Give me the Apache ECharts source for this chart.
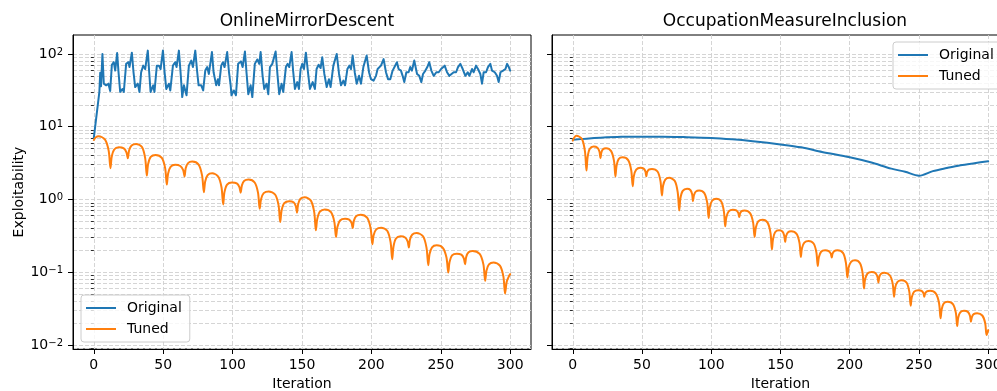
<!DOCTYPE html>
<html>
<head>
<meta charset="utf-8">
<script src="https://cdn.jsdelivr.net/npm/echarts@6/dist/echarts.min.js"></script>
<style>
  html, body { margin: 0; padding: 0; background: #fff; }
  #chart { width: 997px; height: 391px; }
</style>
</head>
<body>
<div id="chart"></div>
<script>
// [iteration, exploitability]
const omdOriginal = [
  [0, 7], [4, 30], [4.6, 55], [5.2, 36], [6.2, 100], [7.2, 39], [8.9, 37], [10.5, 39], [11.8, 31],
  [13, 71], [14.4, 77], [15.4, 59], [16.8, 103], [17.8, 56], [19, 30], [20.7, 33], [21.6, 30],
  [23.3, 73], [25, 77], [25.7, 66], [27.4, 104], [28.6, 56], [29.8, 35], [31.7, 39], [32.9, 30],
  [34.1, 56], [35.6, 69], [37, 62], [38.9, 111], [39.9, 56], [40.9, 30], [42.8, 37], [43.7, 30],
  [45.4, 69], [46.9, 69], [48.1, 62], [49.8, 111], [51, 56], [52.2, 33], [54.1, 39], [55.1, 31.5],
  [57, 69], [58.7, 77], [59.6, 66], [61.3, 111], [62.5, 56], [63.7, 25.5], [64.9, 37], [66.8, 27],
  [68.5, 69], [70.2, 81], [71.4, 66], [73.1, 111], [74.5, 56], [75.5, 37], [77.4, 37], [78.8, 31.5],
  [80.3, 59], [81.7, 66], [82.9, 53], [85.1, 106], [86.3, 56], [87.3, 45], [88.2, 37], [89.4, 45],
  [90.2, 37], [91.8, 69], [93, 77], [94.2, 66], [96.1, 106], [97.4, 56], [98.6, 37], [99.2, 27],
  [100.9, 31.5], [102.4, 27], [104, 73], [106, 79], [107.2, 66], [108.9, 108], [110, 56], [111.3, 28],
  [113, 37], [114.2, 25.5], [116, 73], [117.8, 84], [119.2, 73], [120.2, 106], [121.6, 50], [122.8, 33],
  [124.5, 39], [125.7, 28], [126.9, 66], [128.6, 73], [129.8, 69], [131, 108], [132.4, 50], [133.6, 28],
  [135.3, 39], [136.5, 30], [138.4, 66], [139.6, 73], [140.8, 66], [142.5, 106], [143.7, 56], [144.9, 33],
  [146.6, 41], [147.8, 33], [149, 62], [150.2, 73], [151.4, 62], [152.8, 104], [154.3, 56], [155.7, 33],
  [157.7, 41], [159.3, 33], [160.5, 62], [162, 71], [163.4, 64], [164.6, 90], [166.1, 53], [167.8, 35],
  [169.4, 45], [170.6, 35], [172.6, 69], [173.8, 69], [175, 100], [176.7, 53], [178.1, 37], [179.8, 43],
  [181, 37], [182.7, 62], [184.1, 69], [185.3, 62], [186.5, 95], [188, 56], [189.4, 39], [191.1, 50],
  [192.5, 39], [194.2, 66], [195.4, 69], [196.6, 95], [198.3, 56], [199.7, 45], [201.6, 43], [203.3, 50],
  [204.5, 62], [205.7, 62], [206.9, 69], [208.8, 85], [210.5, 56], [212, 45], [213.6, 45], [215.3, 59],
  [216.5, 59], [218.4, 77], [219.6, 62], [221.3, 59], [222.5, 50], [223.7, 41], [225.2, 56], [226.8, 56],
  [228, 66], [229.2, 59], [230.9, 81], [232.9, 53], [234.5, 50], [236, 41], [237.2, 53], [238.9, 59],
  [240.3, 66], [241.7, 77], [243.2, 59], [244.9, 50], [246.8, 56], [248.5, 56], [250.2, 62], [251.4, 62],
  [252.8, 69], [254.5, 56], [256.2, 50], [257.6, 48], [259.3, 56], [261, 56], [262.4, 66], [264.1, 73],
  [265.8, 62], [267.7, 50], [269.4, 56], [270.6, 50], [272.5, 62], [273.7, 56], [275.4, 69], [276.8, 62],
  [278.5, 53], [279.7, 39], [280.9, 56], [282.6, 56], [284, 66], [285.7, 73], [286.9, 59], [288.9, 56],
  [290.5, 50], [291.7, 41], [293, 56], [294.9, 59], [296.6, 62], [297.8, 73], [299, 66], [300, 59]
];

const omdTuned = [
  [0, 6.58], [1.5, 7.16], [3.4, 7.36], [8.1, 6.65], [10.7, 4.68], [12, 2.69], [12.9, 3.86], [14.7, 4.86],
  [18, 5.2], [21.6, 5.02], [23.5, 4.45], [24.5, 3.68], [25.4, 4.72], [27.2, 5.53], [30.5, 5.79],
  [34.7, 5.25], [37, 3.7], [38.2, 2.13], [39.1, 3.05], [41, 3.84], [44.5, 4.09], [49, 3.72], [51.4, 2.69],
  [52.6, 1.6], [53.5, 2.26], [55.3, 2.81], [58.6, 2.99], [62.3, 2.88], [64.4, 2.53], [65.4, 2.07],
  [66.2, 2.68], [67.9, 3.16], [70.9, 3.31], [75.5, 3.01], [78, 2.14], [79.3, 1.26], [80.2, 1.75],
  [82, 2.16], [85.3, 2.29], [89.6, 2.07], [92, 1.47], [93.2, 0.855], [94.1, 1.25], [96, 1.6],
  [99.5, 1.71], [103, 1.66], [104.9, 1.48], [105.8, 1.24], [106.7, 1.56], [108.4, 1.8], [111.5, 1.88],
  [115.9, 1.71], [118.3, 1.24], [119.5, 0.745], [120.5, 1.01], [122.4, 1.22], [126, 1.29], [130.6, 1.17],
  [133.1, 0.834], [134.3, 0.489], [135.3, 0.703], [137.2, 0.887], [140.8, 0.948], [143.9, 0.914],
  [145.6, 0.804], [146.4, 0.658], [147.2, 0.861], [148.9, 1.02], [152, 1.07], [156.4, 0.964],
  [158.8, 0.668], [160, 0.376], [161, 0.541], [162.9, 0.682], [166.5, 0.73], [170.9, 0.668],
  [173.3, 0.492], [174.5, 0.305], [175.5, 0.419], [177.4, 0.513], [181, 0.543], [184, 0.527],
  [185.7, 0.475], [186.5, 0.405], [187.4, 0.511], [189.1, 0.592], [192.3, 0.617], [196.9, 0.561],
  [199.4, 0.405], [200.7, 0.242], [201.6, 0.323], [203.5, 0.388], [207, 0.409], [211.4, 0.371],
  [213.8, 0.261], [215, 0.151], [215.9, 0.224], [217.7, 0.29], [221, 0.311], [224.3, 0.3], [226.1, 0.265],
  [227, 0.218], [227.8, 0.281], [229.5, 0.33], [232.6, 0.345], [237.2, 0.312], [239.7, 0.218],
  [241, 0.125], [241.9, 0.177], [243.7, 0.22], [247, 0.234], [251.6, 0.215], [254.1, 0.159],
  [255.4, 0.099], [256.3, 0.138], [258.1, 0.17], [261.5, 0.18], [264.8, 0.174], [266.6, 0.155],
  [267.5, 0.129], [268.3, 0.162], [270, 0.188], [273, 0.196], [278, 0.178], [280.7, 0.128],
  [282, 0.076], [282.9, 0.105], [284.7, 0.128], [288, 0.136], [292.6, 0.123], [295.1, 0.0875],
  [296.3, 0.051], [297.5, 0.0741], [299, 0.0871], [300, 0.094]
];

const omiOriginal = [
  [0, 6.6], [10, 6.85], [20, 7.05], [35, 7.25], [50, 7.3], [65, 7.3], [80, 7.2], [100, 7.0],
  [115, 6.7], [130, 6.3], [150, 5.7], [165, 5.2], [180, 4.5], [200, 3.8], [215, 3.24], [230, 2.65],
  [240, 2.4], [250, 2.12], [260, 2.45], [270, 2.7], [280, 2.95], [290, 3.15], [300, 3.35]
];

const omiTuned = [
  [0, 6.43], [1.2, 7.16], [2.6, 7.53], [6.6, 6.75], [8.8, 4.58], [9.9, 2.49], [10.7, 3.78], [12.2, 4.93],
  [15.1, 5.32], [17.8, 5.13], [19.3, 4.51], [20, 3.68], [20.6, 4.38], [21.8, 4.89], [24, 5.05],
  [27.7, 4.61], [29.8, 3.37], [30.8, 2.07], [31.6, 2.89], [33.1, 3.58], [36, 3.8], [40, 3.47],
  [42.2, 2.52], [43.3, 1.52], [44.1, 2.09], [45.8, 2.56], [48.8, 2.72], [51.2, 2.65], [52.5, 2.41],
  [53.1, 2.08], [53.7, 2.37], [54.9, 2.57], [57.2, 2.63], [61.2, 2.42], [63.3, 1.8], [64.4, 1.135],
  [65.2, 1.54], [66.8, 1.87], [69.7, 1.98], [73.7, 1.79], [75.8, 1.245], [76.9, 0.706], [77.7, 1.03],
  [79.4, 1.31], [82.5, 1.4], [84.9, 1.35], [86.2, 1.175], [86.8, 0.948], [87.5, 1.14], [88.8, 1.28],
  [91.3, 1.33], [95, 1.22], [97.1, 0.895], [98.1, 0.555], [98.9, 0.776], [100.6, 0.959], [103.6, 1.02],
  [107.2, 0.935], [109.1, 0.689], [110.1, 0.427], [110.9, 0.57], [112.6, 0.686], [115.6, 0.723],
  [118.1, 0.706], [119.5, 0.652], [120.2, 0.573], [120.8, 0.643], [121.9, 0.692], [124, 0.706],
  [128, 0.649], [130.2, 0.484], [131.3, 0.305], [132.2, 0.412], [133.9, 0.499], [137, 0.527],
  [140.7, 0.48], [142.8, 0.344], [143.8, 0.205], [144.6, 0.286], [146.1, 0.354], [149, 0.376],
  [151.4, 0.362], [152.7, 0.318], [153.4, 0.26], [154, 0.313], [155.3, 0.352], [157.7, 0.365],
  [161.6, 0.337], [163.7, 0.254], [164.7, 0.162], [165.5, 0.214], [167.2, 0.255], [170.2, 0.269],
  [173.9, 0.248], [175.9, 0.188], [176.9, 0.122], [177.7, 0.16], [179.3, 0.191], [182.2, 0.2],
  [184.8, 0.195], [186.3, 0.18], [187, 0.159], [187.6, 0.18], [188.8, 0.195], [191.1, 0.2],
  [195.1, 0.184], [197.2, 0.136], [198.3, 0.0845], [199.1, 0.114], [200.8, 0.138], [203.8, 0.146],
  [207.4, 0.133], [209.3, 0.0975], [210.3, 0.0597], [211.1, 0.0798], [212.8, 0.0959], [215.9, 0.101],
  [218.5, 0.0977], [220, 0.0869], [220.7, 0.0721], [221.3, 0.0853], [222.6, 0.0951], [225, 0.0979],
  [228.9, 0.0908], [231, 0.0697], [232, 0.0459], [232.8, 0.0612], [234.5, 0.0736], [237.5, 0.0776],
  [241.1, 0.0716], [243, 0.054], [244, 0.0346], [244.8, 0.0454], [246.5, 0.054], [249.5, 0.0566],
  [251.9, 0.0555], [253.2, 0.0515], [253.8, 0.0459], [254.4, 0.0509], [255.7, 0.0545], [258, 0.0555],
  [262.2, 0.0508], [264.5, 0.0375], [265.6, 0.0232], [266.4, 0.031], [267.9, 0.0372], [270.7, 0.0393],
  [274.5, 0.0364], [276.6, 0.0278], [277.6, 0.0182], [278.3, 0.0237], [279.8, 0.0281], [282.5, 0.0295],
  [285.3, 0.0285], [286.8, 0.0252], [287.5, 0.0209], [288.2, 0.0242], [289.5, 0.0265], [292, 0.0272],
  [295.7, 0.0254], [297.8, 0.02], [298.8, 0.0137], [300, 0.016]
];

const xTicks = [0, 50, 100, 150, 200, 250, 300];
const yMajor = [0.01, 0.1, 1, 10, 100];
const yMinor = [
  0.009,
  0.02, 0.03, 0.04, 0.05, 0.06, 0.07, 0.08, 0.09,
  0.2, 0.3, 0.4, 0.5, 0.6, 0.7, 0.8, 0.9,
  2, 3, 4, 5, 6, 7, 8, 9,
  20, 30, 40, 50, 60, 70, 80, 90
];
const titles = ["OnlineMirrorDescent", "OccupationMeasureInclusion"];
const seriesNames = ["Original", "Tuned"];

const FONT = "DejaVu Sans";
const BLUE = "#1f77b4";
const ORANGE = "#ff7f0e";

const chart = echarts.init(document.getElementById("chart"));

const dashed = { color: "#d0d0d0", type: [4, 2], width: 0.9 };

// 10^k label like matplotlib's mathtext
function powLabel(v) {
  const e = Math.round(Math.log10(v));
  return "10{e|" + (e < 0 ? "\u2212" + (-e) : e) + "}";
}

function makeX(i) {
  return {
    gridIndex: i,
    type: "value",
    min: -15,
    max: 315,
    name: "Iteration",
    nameLocation: "middle",
    nameGap: 27,
    nameTextStyle: { fontFamily: FONT, fontSize: 14, color: "#000" },
    axisLine: { show: true, onZero: false, lineStyle: { color: "#000", width: 1 } },
    axisTick: { show: true, length: 5, customValues: xTicks, lineStyle: { color: "#000" } },
    axisLabel: { customValues: xTicks, margin: 9, color: "#000", fontSize: 14, fontFamily: FONT },
    splitLine: { show: true, lineStyle: dashed }
  };
}

// major ticks, labels and grid
function makeY(i) {
  return {
    gridIndex: i,
    type: "log",
    logBase: 10,
    min: 0.0088,
    max: 182,
    name: i === 0 ? "Exploitability" : "",
    nameLocation: "middle",
    nameGap: 45,
    nameTextStyle: { fontFamily: FONT, fontSize: 14, color: "#000" },
    axisLine: { show: true, onZero: false, lineStyle: { color: "#000", width: 1 } },
    axisTick: { show: true, length: 5, customValues: yMajor, lineStyle: { color: "#000" } },
    axisLabel: {
      show: i === 0,
      customValues: yMajor,
      margin: 10,
      color: "#000",
      fontSize: 14,
      fontFamily: FONT,
      formatter: powLabel,
      rich: { e: { fontSize: 10, fontFamily: FONT, color: "#000", verticalAlign: "top", padding: [0, 0, 4, 0] } }
    },
    splitLine: { show: true, lineStyle: dashed }
  };
}

// minor ticks and grid on an overlaid axis
function makeYMinor(i) {
  return {
    gridIndex: i,
    type: "log",
    logBase: 10,
    min: 0.0088,
    max: 182,
    position: "left",
    axisLine: { show: false },
    axisTick: { show: true, length: 3, customValues: yMinor, lineStyle: { color: "#000", width: 0.8 } },
    axisLabel: { show: false },
    splitLine: { show: true, customValues: yMinor, lineStyle: dashed }
  };
}

function makeLegend(left, top) {
  return {
    data: seriesNames,
    orient: "vertical",
    left: left,
    top: top,
    icon: "rect",
    itemWidth: 30,
    itemHeight: 2,
    itemGap: 7,
    padding: [6, 8, 6, 5],
    borderColor: "#cccccc",
    borderWidth: 1,
    borderRadius: 3,
    backgroundColor: "rgba(255,255,255,0.8)",
    textStyle: { fontFamily: FONT, fontSize: 14, color: "#000", padding: [0, 0, 0, 6] }
  };
}

function line(name, color, data, xi, yi, smooth) {
  return {
    name: name,
    type: "line",
    xAxisIndex: xi,
    yAxisIndex: yi,
    data: data,
    symbol: "none",
    showSymbol: false,
    smooth: smooth,
    lineStyle: { color: color, width: 2, join: "round", cap: "round" },
    itemStyle: { color: color }
  };
}

const option = {
  animation: false,
  backgroundColor: "#fff",
  title: [
    { text: titles[0], left: 302, top: 8, textAlign: "center",
      textStyle: { fontFamily: FONT, fontSize: 17, fontWeight: "normal", color: "#000" } },
    { text: titles[1], left: 780, top: 8, textAlign: "center",
      textStyle: { fontFamily: FONT, fontSize: 17, fontWeight: "normal", color: "#000" } }
  ],
  legend: [makeLegend(81, 295), makeLegend(893, 42)],
  grid: [
    { left: 73, width: 458, top: 35, bottom: 42, outerBoundsMode: "none", containLabel: false,
      show: true, borderColor: "#000", borderWidth: 1 },
    { left: 552, width: 457, top: 35, bottom: 42, outerBoundsMode: "none", containLabel: false,
      show: true, borderColor: "#000", borderWidth: 1 }
  ],
  xAxis: [makeX(0), makeX(1)],
  yAxis: [makeY(0), makeYMinor(0), makeY(1), makeYMinor(1)],
  series: [
    line(seriesNames[0], BLUE, omdOriginal, 0, 0, false),
    line(seriesNames[1], ORANGE, omdTuned, 0, 0, 0.3),
    line(seriesNames[0], BLUE, omiOriginal, 1, 2, 0.3),
    line(seriesNames[1], ORANGE, omiTuned, 1, 2, 0.3)
  ]
};

chart.setOption(option);
</script>
</body>
</html>
